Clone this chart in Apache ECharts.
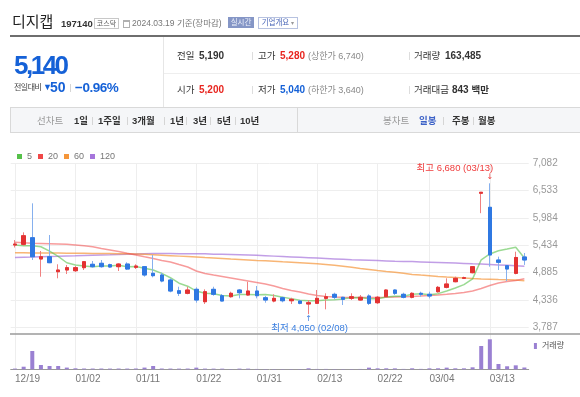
<!DOCTYPE html>
<html>
<head>
<meta charset="utf-8">
<script src="https://cdn.jsdelivr.net/npm/echarts@6/dist/echarts.min.js"></script>
<style>
  body { margin: 0; width: 580px; height: 397px; overflow: hidden; background: #fff;
         font-family: "Liberation Sans", "Noto Sans CJK KR", sans-serif; }
  #chart { position: absolute; left: 0; top: 0; width: 580px; height: 397px; }
  #head { position: absolute; left: 0; top: 0; width: 580px; height: 140px; z-index: 2; }
  .t { position: absolute; white-space: nowrap; line-height: 1; }
  .b { font-weight: bold; }
  .ln { position: absolute; }
  .lab { font-size: 9.5px; color: #333; }
  .val { font-size: 10px; font-weight: bold; color: #333; }
  .gray { font-size: 9px; color: #888; }
  .tb { font-size: 9.5px; font-weight: bold; color: #333; }
</style>
</head>
<body>
<div id="chart"></div>
<div id="head">
  <!-- 제목 줄 -->
  <span class="t" style="left:12px;top:14px;font-size:15px;color:#222">디지캡</span>
  <span class="t b" style="left:61px;top:19px;font-size:9.5px;color:#333">197140</span>
  <span class="t" style="left:94px;top:18px;width:23px;height:9px;line-height:9px;border:1px solid #c8c8c8;font-size:7px;color:#555;text-align:center">코스닥</span>
  <span class="ln" style="left:123px;top:20px;width:5px;height:5px;border:1px solid #b0b0b0;border-top-width:2px"></span>
  <span class="t" style="left:132px;top:19px;font-size:8.5px;color:#777">2024.03.19 기준(장마감)</span>
  <span class="t" style="left:228px;top:17px;width:26px;height:11px;line-height:11px;background:#8596c6;color:#eef1fa;font-size:7.5px;text-align:center">실시간</span>
  <span class="t" style="left:258px;top:17px;width:38px;height:10px;line-height:10px;border:1px solid #b7c2e0;color:#4a66b8;font-size:7.5px;text-align:center">기업개요 <span style="color:#999;font-size:6px">▾</span></span>
  <div class="ln" style="left:10px;top:35px;width:570px;height:2px;background:#6e6e6e"></div>

  <!-- 현재가 -->
  <div class="ln" style="left:163px;top:37px;width:1px;height:71px;background:#e6e6e6"></div>
  <div class="ln" style="left:164px;top:73px;width:416px;height:1px;background:#eeeeee"></div>
  <span class="t b" style="left:14px;top:52px;font-size:26px;color:#1561d7;letter-spacing:-2.5px">5,140</span>
  <span class="t" style="left:14px;top:83.5px;font-size:8px;color:#444;letter-spacing:-0.5px">전일대비</span>
  <span class="t" style="left:43px;top:83px;font-size:9px;color:#1561d7">▼</span>
  <span class="t b" style="left:50px;top:80px;font-size:14px;color:#1561d7">50</span>
  <div class="ln" style="left:70px;top:84px;width:1px;height:8px;background:#d5d5d5"></div>
  <span class="t b" style="left:75px;top:80.6px;font-size:13.5px;color:#1561d7;letter-spacing:-0.5px">−0.96%</span>

  <span class="t lab" style="left:177px;top:51px">전일</span>
  <span class="t val" style="left:199px;top:51px">5,190</span>
  <div class="ln" style="left:252px;top:52px;width:1px;height:8px;background:#ddd"></div>
  <span class="t lab" style="left:258px;top:51px">고가</span>
  <span class="t val" style="left:280px;top:51px;color:#e8251f">5,280</span>
  <span class="t gray" style="left:308px;top:51.5px">(상한가 6,740)</span>
  <div class="ln" style="left:409px;top:52px;width:1px;height:8px;background:#ddd"></div>
  <span class="t lab" style="left:414px;top:51px">거래량</span>
  <span class="t val" style="left:445px;top:51px">163,485</span>

  <span class="t lab" style="left:177px;top:85px">시가</span>
  <span class="t val" style="left:199px;top:85px;color:#e8251f">5,200</span>
  <div class="ln" style="left:252px;top:86px;width:1px;height:8px;background:#ddd"></div>
  <span class="t lab" style="left:258px;top:85px">저가</span>
  <span class="t val" style="left:280px;top:85px;color:#1561d7">5,040</span>
  <span class="t gray" style="left:308px;top:85.5px">(하한가 3,640)</span>
  <div class="ln" style="left:409px;top:86px;width:1px;height:8px;background:#ddd"></div>
  <span class="t lab" style="left:414px;top:85px">거래대금</span>
  <span class="t val" style="left:452px;top:85px">843 <span style="font-size:9.5px">백만</span></span>

  <!-- 툴바 -->
  <div class="ln" style="left:10px;top:107px;width:570px;height:24px;background:#f5f6f8;border-top:1px solid #d9d9d9;border-bottom:1px solid #d9d9d9"></div>
  <div class="ln" style="left:10px;top:108px;width:1px;height:24px;background:#d9d9d9"></div>
  <div class="ln" style="left:297px;top:108px;width:1px;height:24px;background:#d9d9d9"></div>
  <span class="t" style="left:37px;top:116.2px;font-size:9.5px;color:#999">선차트</span>
  <span class="t tb" style="left:74px;top:116.2px">1일</span>
  <span class="t tb" style="left:98px;top:116.2px">1주일</span>
  <span class="t tb" style="left:132px;top:116.2px">3개월</span>
  <span class="t tb" style="left:170px;top:116.2px">1년</span>
  <span class="t tb" style="left:193px;top:116.2px">3년</span>
  <span class="t tb" style="left:217px;top:116.2px">5년</span>
  <span class="t tb" style="left:240px;top:116.2px">10년</span>
  <div class="ln" style="left:92px;top:117px;width:1px;height:8px;background:#d5d5d5"></div>
  <div class="ln" style="left:127px;top:117px;width:1px;height:8px;background:#d5d5d5"></div>
  <div class="ln" style="left:164px;top:117px;width:1px;height:8px;background:#d5d5d5"></div>
  <div class="ln" style="left:186px;top:117px;width:1px;height:8px;background:#d5d5d5"></div>
  <div class="ln" style="left:210px;top:117px;width:1px;height:8px;background:#d5d5d5"></div>
  <div class="ln" style="left:235px;top:117px;width:1px;height:8px;background:#d5d5d5"></div>
  <span class="t" style="left:383px;top:116.2px;font-size:9.5px;color:#999">봉차트</span>
  <span class="t tb" style="left:419px;top:116.2px;color:#3d62c7">일봉</span>
  <span class="t tb" style="left:452px;top:116.2px">주봉</span>
  <span class="t tb" style="left:478px;top:116.2px">월봉</span>
  <div class="ln" style="left:443px;top:117px;width:1px;height:8px;background:#d5d5d5"></div>
  <div class="ln" style="left:473px;top:117px;width:1px;height:8px;background:#d5d5d5"></div>
</div>

<script>
// 날짜 (거래일)
const dates = [
  '12/19','12/20','12/21','12/22','12/26','12/27','12/28',
  '01/02','01/03','01/04','01/05','01/08','01/09','01/10','01/11','01/12','01/15','01/16','01/17','01/18','01/19',
  '01/22','01/23','01/24','01/25','01/26','01/29','01/30','01/31',
  '02/01','02/02','02/05','02/06','02/07','02/08','02/13','02/14','02/15','02/16','02/19','02/20','02/21','02/22','02/23',
  '02/26','02/27','02/28','02/29',
  '03/04','03/05','03/06','03/07','03/08','03/11','03/12','03/13','03/14','03/15','03/18','03/19'
];

// 시가 / 종가 / 저가 / 고가
const opens = [5440,5454,5587,5159,5205,4904,4938,4924,4985,5053,5073,5045,5005,5058,4992,5005,4872,4838,4737,4522,
  4470,4550,4301,4550,4422,4402,4536,4436,4516,4381,4315,4381,4321,4315,4255,4269,4369,4450,4390,4369,
  4335,4416,4281,4402,4536,4450,4390,4470,4450,4502,4590,4703,4771,4884,6480,6198,5139,5025,4871,5200];
const closes = [5460,5627,5205,5205,5085,4938,4985,4985,5105,5005,5005,4998,5058,4958,5018,4838,4824,4717,4516,4470,
  4536,4335,4502,4450,4315,4470,4482,4516,4422,4335,4369,4321,4349,4269,4281,4369,4402,4390,4349,4402,
  4390,4269,4390,4536,4470,4390,4470,4450,4416,4590,4657,4771,4784,5005,6500,5240,5093,4958,5190,5140];
const lows = [5390,5426,5139,4803,5075,4771,4857,4898,4938,4985,4985,4985,4918,4938,4958,4804,4791,4691,4490,4416,
  4450,4281,4255,4422,4309,4382,4369,4422,4369,4281,4289,4289,4255,4249,4050,4255,4148,4349,4235,4335,
  4321,4235,4255,4390,4436,4369,4369,4402,4369,4482,4570,4691,4757,4871,6080,5005,4938,4717,4851,5040];
const highs = [5540,5695,6278,5320,5641,5053,5038,5018,5119,5119,5139,5065,5073,5093,5053,5018,5240,4884,4771,4602,
  4602,4590,4550,4602,4456,4502,4556,4703,4617,4416,4450,4402,4381,4335,4335,4536,4470,4482,4390,4470,
  4436,4450,4416,4550,4550,4482,4490,4502,4502,4617,4771,4804,4804,5018,6500,6680,5206,5030,5306,5280];

// 거래량
const volumes = [65000,235000,1660000,390000,300000,300000,155000,90000,72000,68000,
  70000,64000,70000,66000,72000,155000,300000,70000,66000,62000,
  68000,150000,64000,60000,58000,30000,62000,60000,32000,30000,
  28000,30000,26000,30000,90000,32000,34000,30000,28000,30000,
  32000,150000,88000,90000,85000,35000,90000,38000,88000,92000,
  150000,90000,88000,180000,2110000,2720000,480000,275000,360000,163485];

// 이동평균선
const ma5 = [5440,5426,5426,5406,5317,5212,5084,5040,5020,5004,5017,5020,5034,5005,5007,4974,4939,4871,4783,4673,
  4613,4515,4472,4459,4428,4414,4444,4447,4441,4445,4425,4393,4359,4329,4318,4318,4334,4342,4358,4382,
  4387,4360,4360,4397,4411,4411,4451,4463,4439,4463,4517,4577,4644,4761,5143,5260,5324,5359,5396,5180];
const ma20 = [5495,5484,5474,5470,5466,5460,5454,5440,5424,5406,5370,5340,5310,5273,5239,5203,5169,5129,5099,5048,
  4998,4918,4868,4837,4807,4777,4747,4717,4687,4657,4616,4566,4526,4496,4456,4426,4405,4395,4389,4385,
  4385,4385,4385,4389,4395,4401,4405,4415,4426,4436,4450,4466,4486,4516,4566,4627,4677,4707,4727,4762];
const ma60 = [5286,5284,5282,5281,5280,5278,5276,5274,5273,5272,5270,5268,5266,5265,5262,5254,5246,5237,5227,5217,
  5207,5197,5187,5179,5169,5159,5151,5141,5131,5123,5113,5103,5095,5085,5075,5063,5051,5033,5013,4993,
  4970,4948,4926,4908,4894,4872,4850,4836,4824,4810,4797,4787,4777,4765,4757,4751,4745,4741,4735,4723];
const ma120 = [5189,5195,5199,5205,5209,5213,5219,5223,5229,5235,5240,5245,5251,5255,5261,5265,5269,5269,5269,5267,
  5267,5265,5263,5257,5253,5249,5245,5240,5233,5225,5217,5209,5201,5193,5185,5177,5169,5161,5153,5145,
  5139,5133,5127,5121,5115,5111,5107,5101,5095,5089,5083,5077,5071,5063,5057,5049,5041,5033,5023,5013];

// 축 눈금
const yTicks = [3787, 4336, 4885, 5434, 5984, 6533, 7082];
const xTickLabels = ['12/19','01/02','01/11','01/22','01/31','02/13','02/22','03/04','03/13'];

const RED = '#e33232', BLUE = '#2f78e2';
const FONT = '"Liberation Sans", "Noto Sans CJK KR", sans-serif';

const chart = echarts.init(document.getElementById('chart'));

const ohlc = dates.map((d, i) => [opens[i], closes[i], lows[i], highs[i]]);
const bodies = dates.map((d, i) => [opens[i], closes[i], Math.min(opens[i], closes[i]), Math.max(opens[i], closes[i])]);

// 최고 / 최저
let hiIdx = 0, loIdx = 0;
highs.forEach((v, i) => { if (v > highs[hiIdx]) hiIdx = i; });
lows.forEach((v, i) => { if (v < lows[loIdx]) loIdx = i; });
const fmt = v => v.toLocaleString('en-US');

const showTick = (i, v) => xTickLabels.includes(v);

const option = {
  animation: false,
  textStyle: { fontFamily: FONT },
  legend: [
    {
      data: ['5', '20', '60', '120'],
      left: 12, top: 147,
      icon: 'rect', itemWidth: 5, itemHeight: 5, itemGap: 6,
      textStyle: { fontSize: 9, color: '#777', fontFamily: FONT },
      selectedMode: false
    },
    {
      data: ['거래량'],
      right: 11, top: 337,
      icon: 'rect', itemWidth: 3, itemHeight: 6,
      textStyle: { fontSize: 8, color: '#555', fontFamily: FONT },
      selectedMode: false
    }
  ],
  grid: [
    { left: 10.7, right: 51.3, top: 163.3, height: 164 },
    { left: 10.7, right: 51.3, top: 327.3, height: 42 }
  ],
  xAxis: [
    {
      type: 'category', gridIndex: 0, data: dates, boundaryGap: true,
      axisLine: { show: false }, axisTick: { show: false }, axisLabel: { show: false },
      splitLine: { show: true, interval: showTick, alignWithLabel: true, lineStyle: { color: '#eeeeee' } }
    },
    {
      type: 'category', gridIndex: 1, data: dates, boundaryGap: true,
      axisLine: { lineStyle: { color: '#999' } },
      axisTick: { alignWithLabel: true, interval: showTick, length: 4, lineStyle: { color: '#999' } },
      axisLabel: { interval: showTick, align: 'left', color: '#777', fontSize: 10, margin: 5 },
      splitLine: { show: true, interval: showTick, alignWithLabel: true, lineStyle: { color: '#eeeeee' } }
    }
  ],
  yAxis: [
    {
      type: 'value', gridIndex: 0, position: 'right',
      min: yTicks[0], max: yTicks[yTicks.length - 1],
      interval: (yTicks[yTicks.length - 1] - yTicks[0]) / (yTicks.length - 1),
      axisLine: { show: false }, axisTick: { show: false },
      axisLabel: {
        color: '#999', fontSize: 10, margin: 4,
        formatter: v => {
          let best = yTicks[0];
          yTicks.forEach(t => { if (Math.abs(t - v) < Math.abs(best - v)) best = t; });
          return fmt(best);
        }
      },
      splitLine: { lineStyle: { color: '#eeeeee' } }
    },
    {
      type: 'value', gridIndex: 1, min: 0, max: 3807000, show: false,
      splitLine: { show: false }
    }
  ],
  series: [
    { name: '120', type: 'line', data: ma120, color: '#a675dc', symbol: 'none', z: 2,
      lineStyle: { width: 1.5, opacity: 0.7 } },
    { name: '60', type: 'line', data: ma60, color: '#f5963a', symbol: 'none', z: 2,
      lineStyle: { width: 1.5, opacity: 0.7 } },
    { name: '20', type: 'line', data: ma20, color: '#f04848', symbol: 'none', z: 2,
      lineStyle: { width: 1.5, opacity: 0.55 } },
    { name: '5', type: 'line', data: ma5, color: '#56c14a', symbol: 'none', z: 2,
      lineStyle: { width: 1.5, opacity: 0.6 } },
    {
      // 꼬리
      name: 'wick', type: 'candlestick', data: ohlc, barWidth: 4, z: 3,
      itemStyle: { color: '#f08080', color0: '#86b0ee', borderColor: '#f08080', borderColor0: '#86b0ee', borderWidth: 1 },
      markPoint: {
        symbol: 'circle', symbolSize: 0, silent: true,
        data: [
          { coord: [hiIdx, highs[hiIdx]], label: { formatter: '↓', offset: [0, -6], color: '#ef3b3b', fontSize: 8, fontFamily: 'DejaVu Sans' } },
          { coord: [hiIdx, highs[hiIdx]], label: { formatter: '최고 ' + fmt(highs[hiIdx]) + ' (' + dates[hiIdx] + ')', offset: [-35, -15], color: '#ef3b3b', fontSize: 9.5 } },
          { coord: [loIdx, lows[loIdx]], label: { formatter: '↑', offset: [0, 5], color: '#3a7fe0', fontSize: 8, fontFamily: 'DejaVu Sans' } },
          { coord: [loIdx, lows[loIdx]], label: { formatter: '최저 ' + fmt(lows[loIdx]) + ' (' + dates[loIdx] + ')', offset: [1, 14], color: '#3a7fe0', fontSize: 9.5 } }
        ],
        label: { show: true, position: 'inside' }
      }
    },
    {
      // 몸통
      name: 'body', type: 'candlestick', data: bodies, barWidth: 4, z: 4,
      itemStyle: { color: RED, color0: BLUE, borderColor: RED, borderColor0: BLUE, borderWidth: 1 }
    },
    {
      name: '거래량', type: 'bar', xAxisIndex: 1, yAxisIndex: 1, data: volumes,
      barWidth: 4, color: '#9a80d2'
    }
  ],
  graphic: [
    { type: 'line', shape: { x1: 10, y1: 334, x2: 580, y2: 334 }, style: { stroke: '#9a9a9a', lineWidth: 1.5 }, z: 10 }
  ]
};

chart.setOption(option);

window.addEventListener('resize', function () {
  chart.resize();
});
</script>
</body>
</html>
